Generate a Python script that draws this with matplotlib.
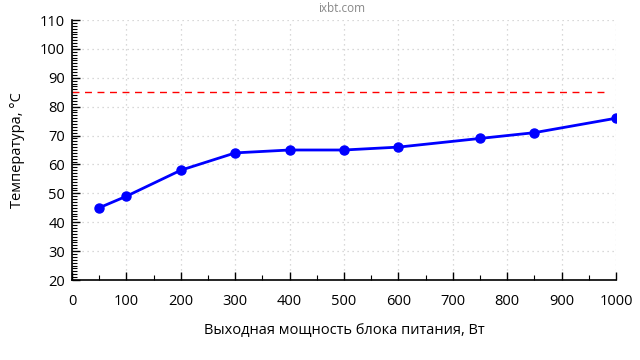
import matplotlib
matplotlib.use("Agg")
import matplotlib.pyplot as plt
from matplotlib.ticker import MultipleLocator

power = [50, 100, 200, 300, 400, 500, 600, 750, 850, 1000]
temp = [45, 49, 58, 64, 65, 65, 66, 69, 71, 76]
limit = 85
limit_x = [0, 988]

plt.rcParams['font.family'] = ['Open Sans', 'DejaVu Sans']

fig = plt.figure(figsize=(6.4, 3.6), dpi=100)
ax = fig.add_axes([72/640, 1-280/360, 544/640, 260/360])

ax.plot(limit_x, [limit, limit], color='#ff0000', lw=1.0, dashes=(5, 4))
ax.plot(power, temp, color='#0000ff', lw=2, marker='o', ms=6.5, zorder=3)

ax.set_xlim(0, 1000)
ax.set_ylim(20, 110)
ax.xaxis.set_major_locator(MultipleLocator(100))
ax.xaxis.set_minor_locator(MultipleLocator(50))
ax.yaxis.set_major_locator(MultipleLocator(10))
ax.yaxis.set_minor_locator(MultipleLocator(1))

for s in ['top', 'right']:
    ax.spines[s].set_visible(False)
for s in ['left', 'bottom']:
    ax.spines[s].set_linewidth(1.2)
    ax.spines[s].set_color('black')

ax.tick_params(which='major', direction='in', length=6, width=1, labelsize=10.5, colors='black')
ax.tick_params(which='minor', direction='in', length=3.5, width=0.8)
ax.tick_params(axis='x', pad=10)
ax.tick_params(axis='y', pad=5)

ax.grid(which='major', color='#cccccc', linestyle=(0, (1, 3)), lw=0.9)

ax.set_xlabel('Выходная мощность блока питания, Вт', fontsize=10.5, labelpad=10)
ax.set_ylabel('Температура, °C', fontsize=10.5, labelpad=11)

fig.text(342/640, 1-8/360, 'ixbt.com', ha='center', va='center', fontsize=8.5, color='#888888')

fig.savefig('out.png', dpi=100)
